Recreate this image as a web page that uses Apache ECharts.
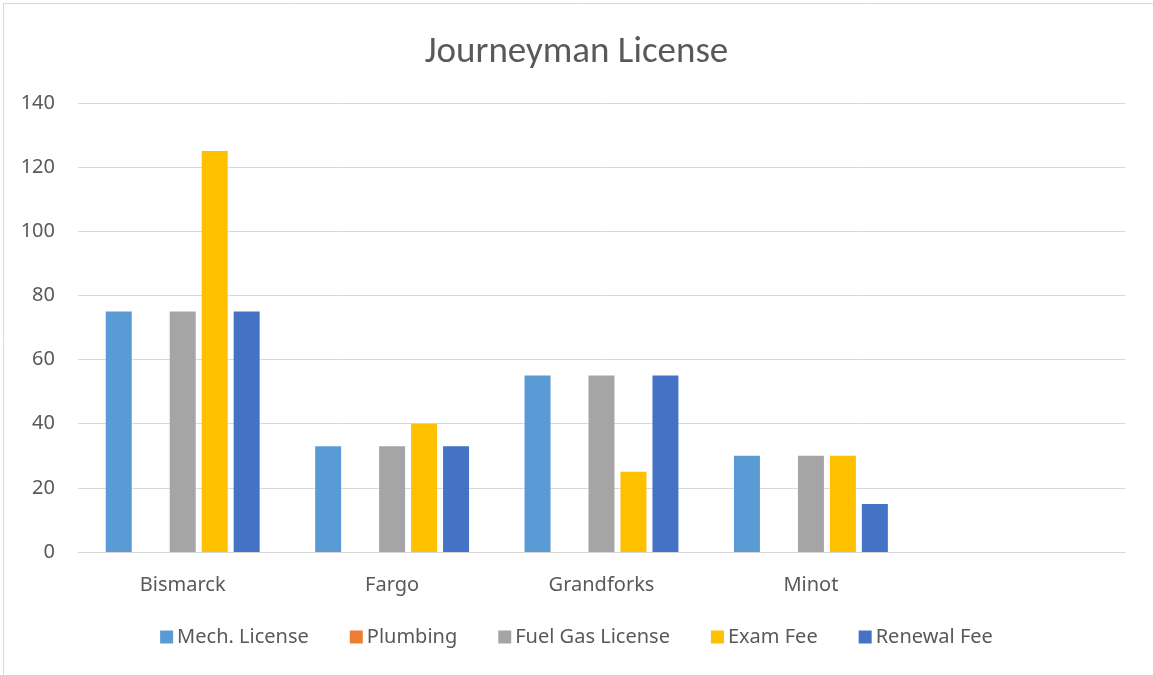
<!DOCTYPE html>
<html>
<head>
<meta charset="utf-8">
<script src="https://cdn.jsdelivr.net/npm/echarts@6/dist/echarts.min.js"></script>
<style>
  html, body { margin: 0; padding: 0; background: #fff; }
  #container { width: 1153px; height: 675px; }
</style>
</head>
<body>
<div id="container"></div>
<script>
// 城市
var cities = ['Bismarck', 'Fargo', 'Grandforks', 'Minot', ''];
var seriesNames = ['Mech. License', 'Plumbing', 'Fuel Gas License', 'Exam Fee', 'Renewal Fee'];
var colors = ['#5b9bd5', '#ed7d31', '#a5a5a5', '#ffc000', '#4472c4'];

var mechLicense = [75, 33, 55, 30, null];
var plumbing = [0, 0, 0, 0, null];
var fuelGasLicense = [75, 33, 55, 30, null];
var examFee = [125, 40, 25, 30, null];
var renewalFee = [75, 33, 55, 15, null];

var yTicks = { min: 0, max: 140, interval: 20 };

var allData = [mechLicense, plumbing, fuelGasLicense, examFee, renewalFee];
var txt = '#595959';
var font = '"Noto Sans", "Open Sans", sans-serif';
var titleFont = 'Carlito, "Liberation Sans Narrow", sans-serif';

var series = [];
for (var i = 0; i < seriesNames.length; i++) {
    series.push({
        name: seriesNames[i],
        type: 'bar',
        data: allData[i],
        barGap: '23%',
        barCategoryGap: '26.5%',
        itemStyle: { color: colors[i] }
    });
}

var dom = document.getElementById('container');
var myChart = echarts.init(dom);

var option = {
    animation: false,
    color: colors,
    title: {
        text: 'Journeyman License',
        left: 'center',
        top: 29,
        textStyle: { fontFamily: titleFont, fontSize: 37, fontWeight: 'normal', color: txt }
    },
    graphic: [{
        type: 'rect',
        shape: { x: 3.5, y: 3.5, width: 1160, height: 680 },
        style: { fill: 'none', stroke: '#d9d9d9', lineWidth: 1 },
        silent: true
    }],
    legend: {
        bottom: 23,
        left: 'center',
        itemWidth: 13,
        itemHeight: 13,
        itemGap: 41,
        icon: 'rect',
        textStyle: { fontFamily: font, fontSize: 20, color: txt, padding: [0, 0, 0, -1] },
        data: seriesNames
    },
    grid: { left: 78, right: 28, top: 103, bottom: 123 },
    xAxis: {
        type: 'category',
        data: cities,
        axisLine: { lineStyle: { color: '#d9d9d9', width: 1 } },
        axisTick: { show: false },
        axisLabel: { fontFamily: font, fontSize: 20, color: txt, margin: 23 }
    },
    yAxis: {
        type: 'value',
        min: yTicks.min,
        max: yTicks.max,
        interval: yTicks.interval,
        axisLine: { show: false },
        axisTick: { show: false },
        splitLine: { lineStyle: { color: '#d9d9d9', width: 1 } },
        axisLabel: { fontFamily: font, fontSize: 20, color: txt, margin: 23 }
    },
    series: series
};

if (option && typeof option === 'object') {
    myChart.setOption(option);
}
</script>
</body>
</html>
